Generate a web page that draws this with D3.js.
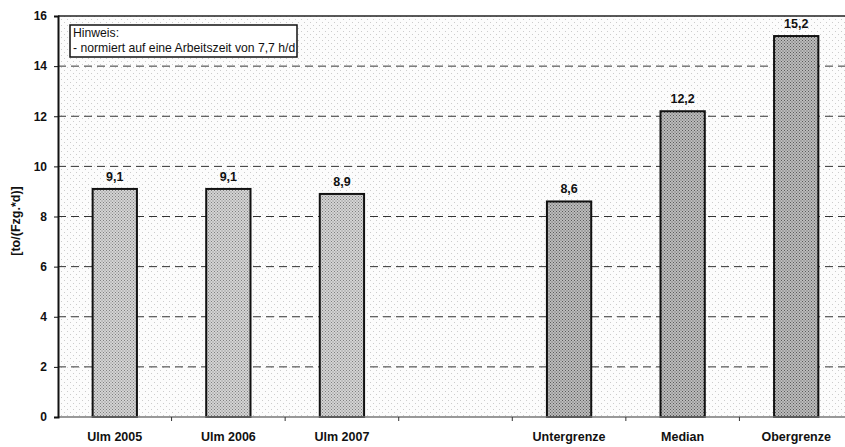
<!DOCTYPE html>
<html lang="de">
<head>
    <meta charset="UTF-8" />
    <title>Leistung je Fahrzeug</title>
    <script src="https://d3js.org/d3.v7.min.js"></script>
    <style>
        body {
            margin: 0;
            background: #fff;
            font-family: "Liberation Sans", Arial, sans-serif;
        }
        .tick text {
            font-size: 12px;
            font-weight: bold;
            fill: #111;
        }
        .label {
            font-size: 12.5px;
            font-weight: bold;
            fill: #111;
        }
    </style>
</head>
<body>
    <svg id="chart" width="845" height="447"></svg>

    <script>
        // data
        const categories = ["Ulm 2005", "Ulm 2006", "Ulm 2007", "", "Untergrenze", "Median", "Obergrenze"];
        const values = [9.1, 9.1, 8.9, null, 8.6, 12.2, 15.2];
        const labels = ["9,1", "9,1", "8,9", "", "8,6", "12,2", "15,2"];
        const groups = ["ulm", "ulm", "ulm", "", "ref", "ref", "ref"];
        const yTicks = [0, 2, 4, 6, 8, 10, 12, 14, 16];
        const noteLines = ["Hinweis:", "- normiert auf eine Arbeitszeit von 7,7 h/d"];

        const svg = d3.select("#chart");
        const margin = { top: 16, right: -8, bottom: 30, left: 58 };
        const width = 845 - margin.left - margin.right;
        const height = 447 - margin.top - margin.bottom;

        // stipple patterns to look a bit like the scanned original
        const defs = svg.append("defs");
        function dots(id, bg, fg, size) {
            const p = defs.append("pattern")
                .attr("id", id)
                .attr("width", size).attr("height", size)
                .attr("patternUnits", "userSpaceOnUse");
            p.append("rect").attr("width", size).attr("height", size).attr("fill", bg);
            p.append("rect").attr("x", 0).attr("y", 0).attr("width", 1).attr("height", 1).attr("fill", fg);
            p.append("rect").attr("x", size / 2).attr("y", size / 2).attr("width", 1).attr("height", 1).attr("fill", fg);
        }
        dots("bgDots", "#fcfcfc", "#cccccc", 6);
        dots("ulmDots", "#d4d4d4", "#808080", 3);
        dots("refDots", "#bcbcbc", "#5a5a5a", 3);

        const g = svg.append("g")
            .attr("transform", `translate(${margin.left},${margin.top})`);

        const x = d3.scaleBand()
            .domain(categories.map((c, i) => i))
            .range([0, width])
            .paddingInner(0.61)
            .paddingOuter(0.305);

        const y = d3.scaleLinear()
            .domain([0, 16])
            .range([height, 0]);

        // plot area background
        g.append("rect")
            .attr("width", width)
            .attr("height", height)
            .attr("fill", "url(#bgDots)");

        // dashed gridlines
        g.append("g")
            .selectAll("line")
            .data(yTicks.filter(d => d > 0 && d < 16))
            .enter().append("line")
            .attr("x1", 0)
            .attr("x2", width)
            .attr("y1", d => y(d))
            .attr("y2", d => y(d))
            .attr("stroke", "#333")
            .attr("stroke-width", 1)
            .attr("stroke-dasharray", "8,5");

        // top border
        g.append("line")
            .attr("x1", 0).attr("x2", width)
            .attr("y1", 0).attr("y2", 0)
            .attr("stroke", "#222")
            .attr("stroke-width", 1.5);

        // bars
        const bars = categories.map((c, i) => ({ i, v: values[i], label: labels[i], group: groups[i] }))
            .filter(d => d.v !== null);

        g.append("g")
            .selectAll("rect")
            .data(bars)
            .enter().append("rect")
            .attr("x", d => x(d.i))
            .attr("y", d => y(d.v))
            .attr("width", x.bandwidth())
            .attr("height", d => height - y(d.v))
            .attr("fill", d => d.group === "ulm" ? "url(#ulmDots)" : "url(#refDots)")
            .attr("stroke", "#111")
            .attr("stroke-width", 2);

        g.append("g")
            .selectAll("text")
            .data(bars)
            .enter().append("text")
            .attr("class", "label")
            .attr("x", d => x(d.i) + x.bandwidth() / 2)
            .attr("y", d => y(d.v) - 8)
            .attr("text-anchor", "middle")
            .text(d => d.label);

        // x axis
        const xAxis = g.append("g")
            .attr("transform", `translate(0,${height})`);
        xAxis.append("line")
            .attr("x1", 0).attr("x2", width)
            .attr("stroke", "#777")
            .attr("stroke-width", 1.5);
        xAxis.selectAll(".sep")
            .data(d3.range(1, categories.length))
            .enter().append("line")
            .attr("x1", i => i * width / categories.length)
            .attr("x2", i => i * width / categories.length)
            .attr("y1", 0).attr("y2", 4)
            .attr("stroke", "#333");
        xAxis.selectAll("text")
            .data(categories.map((c, i) => ({ c, i })).filter(d => d.c))
            .enter().append("text")
            .attr("class", "label")
            .attr("x", d => x(d.i) + x.bandwidth() / 2)
            .attr("y", 24)
            .attr("text-anchor", "middle")
            .text(d => d.c);

        // y axis
        const yAxis = g.append("g")
            .call(d3.axisLeft(y).tickValues(yTicks).tickSize(4).tickPadding(7));
        yAxis.select(".domain").attr("stroke", "#111").attr("stroke-width", 2);
        yAxis.selectAll(".tick line").attr("stroke", "#111");

        // y axis title
        svg.append("text")
            .attr("class", "label")
            .attr("transform", "translate(20,221) rotate(-90)")
            .attr("text-anchor", "middle")
            .text("[to/(Fzg.*d)]");

        // note box
        const note = g.append("g").attr("transform", "translate(12,9)");
        note.append("rect")
            .attr("width", 227)
            .attr("height", 32)
            .attr("fill", "#fff")
            .attr("stroke", "#111")
            .attr("stroke-width", 1.5);
        note.selectAll("text")
            .data(noteLines)
            .enter().append("text")
            .attr("x", 3)
            .attr("y", (d, i) => 12 + i * 15)
            .attr("font-size", 12.2)
            .attr("fill", "#111")
            .text(d => d);
    </script>
</body>
</html>
